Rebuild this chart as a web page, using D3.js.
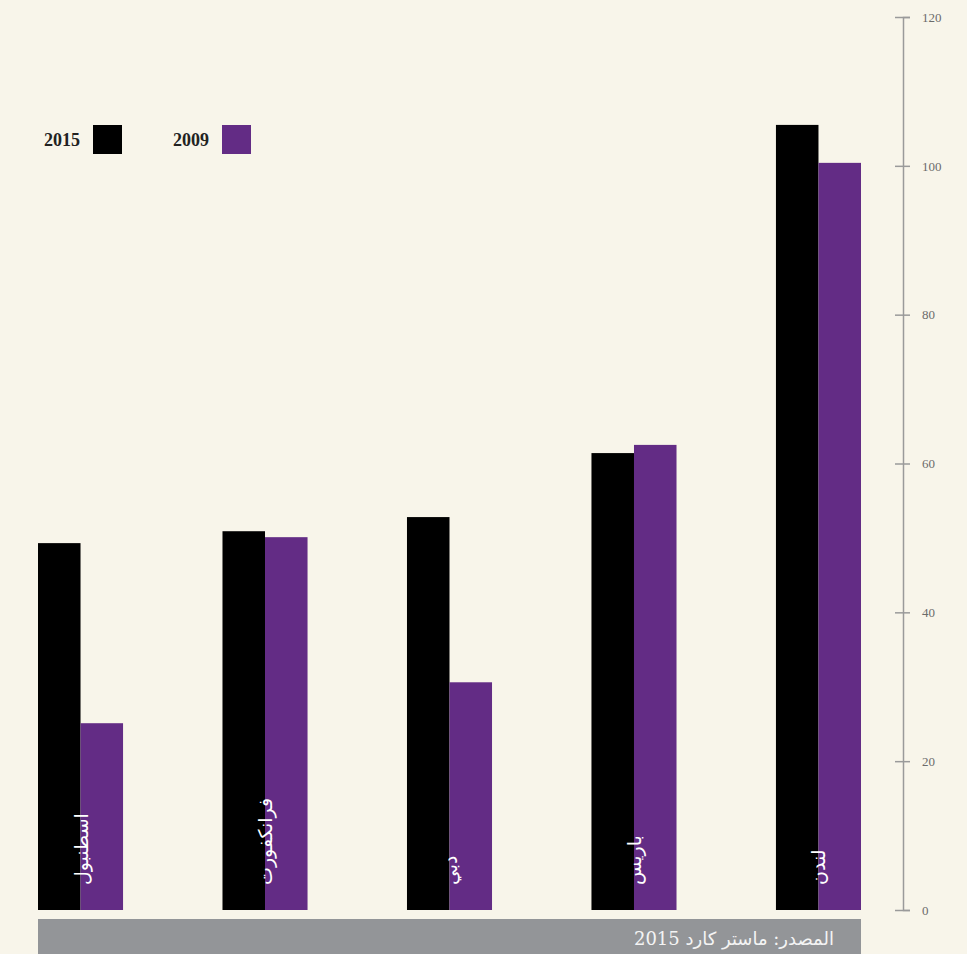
<!DOCTYPE html>
<html>
<head>
<meta charset="utf-8">
<script src="https://cdn.jsdelivr.net/npm/d3@7"></script>
<style>
  body { margin: 0; background: #f8f5ea; }
  svg { display: block; }
</style>
</head>
<body>
<svg id="chart" width="967" height="954"></svg>
<script>
// cities, left to right
var cities = ["اسطنبول", "فرانكفورت", "دبي", "باريس", "لندن"];
var values2015 = [49.3, 50.9, 52.8, 61.4, 105.5];
var values2009 = [25.1, 50.1, 30.6, 62.5, 100.4];
var years = ["2015", "2009"];
var yTicks = [0, 20, 40, 60, 80, 100, 120];
var sourceText = "المصدر: ماستر كارد 2015";

var colors = { "2015": "#000000", "2009": "#632c85" };

var svg = d3.select("#chart");

var x = d3.scaleBand()
    .domain(cities)
    .range([38, 861])
    .paddingInner(0.539)
    .paddingOuter(0);

var xInner = d3.scaleBand()
    .domain(years)
    .range([0, x.bandwidth()]);

var y = d3.scaleLinear()
    .domain([0, 120])
    .range([910, 17]);

// right axis
var axis = svg.append("g")
    .attr("transform", "translate(903,0)")
    .call(d3.axisRight(y).tickValues(yTicks).tickSize(7).tickPadding(12));
axis.select(".domain").attr("stroke", "#9a9a9a").attr("stroke-width", 1.5);
axis.selectAll(".tick line")
    .attr("x1", -8).attr("x2", 7)
    .attr("stroke", "#9a9a9a").attr("stroke-width", 1.5);
axis.selectAll(".tick text")
    .attr("fill", "#6b6b6b")
    .attr("font-family", "Liberation Serif, serif")
    .attr("font-size", 13);

var rows = cities.map(function (c, i) {
    return { city: c, vals: [
        { year: "2015", v: values2015[i] },
        { year: "2009", v: values2009[i] }
    ] };
});

var groups = svg.append("g").selectAll("g")
    .data(rows)
    .enter().append("g")
    .attr("transform", function (d) {
        return "translate(" + x(d.city) + ",0)";
    });

groups.selectAll("rect")
    .data(function (d) { return d.vals; })
    .enter().append("rect")
    .attr("x", function (d) { return xInner(d.year); })
    .attr("width", xInner.bandwidth())
    .attr("y", function (d) { return y(d.v); })
    .attr("height", function (d) { return y(0) - y(d.v); })
    .attr("fill", function (d) { return colors[d.year]; });

groups.append("text")
    .attr("transform", "translate(" + (x.bandwidth() / 2 + 7) + ",885) rotate(-90)")
    .attr("text-anchor", "start")
    .attr("fill", "#ffffff")
    .attr("font-family", "DejaVu Sans, Noto Sans, sans-serif")
    .attr("font-size", 19)
    .text(function (d) { return d.city; });

// legend
var legend = svg.append("g").selectAll("g")
    .data(years)
    .enter().append("g")
    .attr("transform", function (d, i) { return "translate(" + (44 + i * 129) + ",125)"; });

legend.append("text")
    .attr("x", 0)
    .attr("y", 21)
    .attr("fill", "#222")
    .attr("font-family", "Liberation Serif, serif")
    .attr("font-weight", "bold")
    .attr("font-size", 18)
    .text(function (d) { return d; });

legend.append("rect")
    .attr("x", 49)
    .attr("y", 0)
    .attr("width", 29)
    .attr("height", 29)
    .attr("fill", function (d) { return colors[d]; });

// source footer
svg.append("rect")
    .attr("x", 38)
    .attr("y", 919)
    .attr("width", 823)
    .attr("height", 35)
    .attr("fill", "#939598");

svg.append("text")
    .attr("x", 834)
    .attr("y", 945)
    .attr("text-anchor", "end")
    .attr("fill", "#f4f4f4")
    .attr("font-family", "DejaVu Serif, DejaVu Sans, serif")
    .attr("font-size", 18)
    .text(sourceText);
</script>
</body>
</html>
